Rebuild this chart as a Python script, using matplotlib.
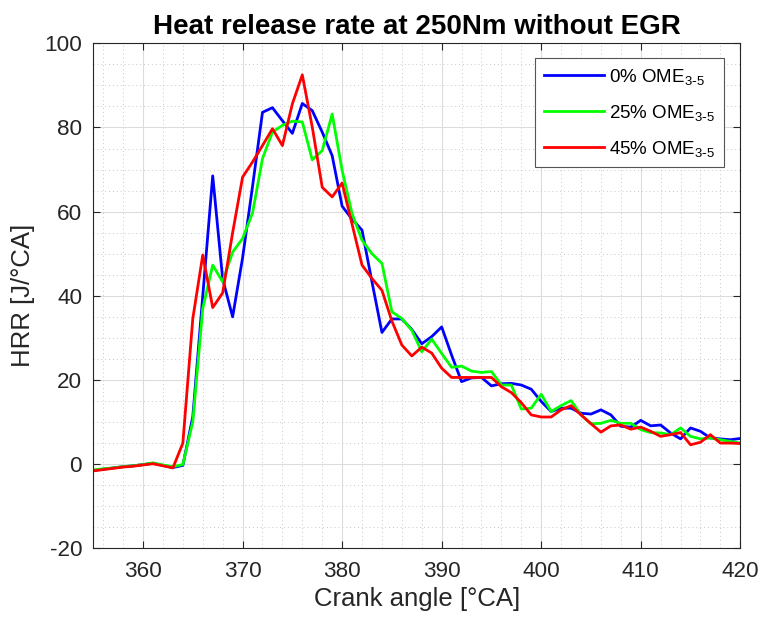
import numpy as np
import matplotlib
matplotlib.use("Agg")
import matplotlib.pyplot as plt
from matplotlib.ticker import MultipleLocator

# Crank angle [deg CA]
crank_angle = np.arange(355, 421)

# HRR [J/deg CA]
hrr_0 = [-1.5, -1.2, -0.9, -0.6, -0.4, -0.1, 0.2, -0.3, -0.8, -0.3,
         11.3, 40.0, 68.5, 44.0, 35.0, 49.0, 66.0, 83.6, 84.7, 81.6,
         78.6, 85.7, 84.0, 78.9, 73.3, 61.3, 58.2, 55.6, 43.3, 31.3,
         34.5, 34.5, 32.0, 28.6, 30.3, 32.6, 25.9, 19.6, 20.5, 20.6,
         18.6, 19.1, 19.2, 18.8, 17.8, 14.9, 12.5, 13.3, 13.3, 12.1,
         11.9, 12.9, 11.7, 9.0, 8.8, 10.4, 9.1, 9.3, 7.4, 6.0,
         8.6, 7.8, 6.2, 6.0, 5.8, 6.1]
hrr_25 = [-1.4, -1.1, -0.9, -0.6, -0.4, -0.1, 0.3, -0.2, -0.6, -0.1,
          10.1, 37.0, 47.3, 43.3, 50.4, 53.6, 59.7, 72.6, 78.9, 80.5,
          81.5, 81.3, 72.3, 74.5, 83.2, 69.8, 59.5, 53.2, 50.0, 47.7,
          36.2, 34.6, 31.8, 26.7, 29.7, 26.3, 23.0, 23.3, 22.1, 21.8,
          22.0, 18.8, 18.8, 13.1, 13.3, 16.6, 12.5, 13.9, 15.1, 11.7,
          9.6, 9.7, 10.4, 9.7, 9.7, 8.2, 7.5, 7.4, 7.0, 8.6,
          6.6, 6.0, 6.2, 5.8, 5.4, 5.0]
hrr_45 = [-1.6, -1.3, -1.0, -0.7, -0.5, -0.2, 0.1, -0.4, -0.9, 5.0,
          34.6, 49.7, 37.2, 40.7, 55.0, 68.2, 71.8, 75.7, 79.7, 75.7,
          85.6, 92.5, 80.1, 65.8, 63.5, 66.8, 57.0, 47.3, 44.1, 41.3,
          34.0, 28.3, 25.7, 27.8, 26.4, 22.8, 20.6, 20.6, 20.6, 20.6,
          20.6, 18.4, 17.0, 14.6, 11.7, 11.2, 11.2, 12.9, 13.9, 11.7,
          9.6, 7.6, 9.1, 9.3, 8.3, 8.8, 7.8, 6.6, 7.0, 7.5,
          4.6, 5.2, 7.0, 5.0, 5.0, 4.9]

labels = [r"0% OME$_{3\text{-}5}$",
          r"25% OME$_{3\text{-}5}$",
          r"45% OME$_{3\text{-}5}$"]
colors = ["#0000ff", "#00ff00", "#ff0000"]

plt.rcParams["font.family"] = ["Liberation Sans", "DejaVu Sans"]
plt.rcParams["mathtext.default"] = "regular"
plt.rcParams["axes.unicode_minus"] = False

fig = plt.figure(figsize=(7.62, 6.23), dpi=100)
ax = fig.add_axes([0.1224, 0.1199, 0.8491, 0.8106])

for y, lab, c in zip([hrr_0, hrr_25, hrr_45], labels, colors):
    ax.plot(crank_angle, y, color=c, lw=2, label=lab)

ax.set_xlim(355, 420)
ax.set_ylim(-20, 100)
ax.xaxis.set_major_locator(MultipleLocator(10))
ax.xaxis.set_minor_locator(MultipleLocator(2))
ax.yaxis.set_major_locator(MultipleLocator(20))
ax.yaxis.set_minor_locator(MultipleLocator(5))

# MATLAB-like box with inward ticks and grids
ax.grid(which="major", color="#dcdcdc", lw=0.8, ls="-")
ax.grid(which="minor", color="#c8c8c8", lw=0.7, ls=(0, (1, 3)))
ax.set_axisbelow(True)
ax.tick_params(which="major", direction="in", length=5, width=0.8,
               top=True, right=True, colors="#262626", labelsize=16.2)
ax.tick_params(axis="x", which="major", pad=9)
ax.tick_params(axis="y", which="major", pad=8)
ax.tick_params(which="minor", length=0)
for s in ax.spines.values():
    s.set_color("#262626")
    s.set_linewidth(0.8)

ax.set_xlabel("Crank angle [°CA]", fontsize=18.5, color="#262626", labelpad=4)
ax.set_ylabel("HRR [J/°CA]", fontsize=18.5, color="#262626", labelpad=7)
ax.set_title("Heat release rate at 250Nm without EGR", fontsize=20,
             fontweight="bold", pad=7)

leg = ax.legend(loc="upper right", bbox_to_anchor=(0.975, 0.970),
                borderaxespad=0, fontsize=13.5, handlelength=3.2,
                handletextpad=0.3, borderpad=0.45, labelspacing=0.85,
                fancybox=False, framealpha=1)
leg.get_frame().set_edgecolor("#555555")
leg.get_frame().set_linewidth(0.8)

fig.savefig("out.png", dpi=100)
